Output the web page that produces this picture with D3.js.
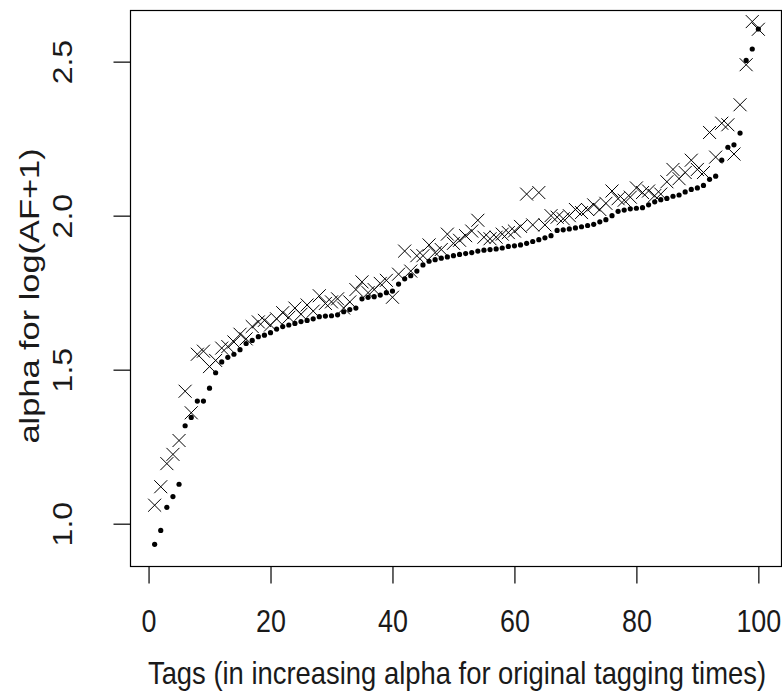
<!DOCTYPE html>
<html>
<head>
<meta charset="utf-8">
<script src="https://cdn.jsdelivr.net/npm/d3@7"></script>
<style>
  html, body { margin: 0; padding: 0; background: #fff; }
  svg { display: block; }
  text { font-family: "Liberation Sans", Arial, sans-serif; fill: #1a1a1a; }
</style>
</head>
<body>
<svg id="chart" width="782" height="698"></svg>
<script>
// alpha per tag, sorted (filled dots)
const alphaOriginal = [
  0.933, 0.978, 1.053, 1.088, 1.128, 1.318, 1.345, 1.398, 1.398, 1.44,
  1.49, 1.525, 1.54, 1.55, 1.565, 1.585, 1.595, 1.607, 1.612, 1.62,
  1.632, 1.64, 1.645, 1.65, 1.656, 1.66, 1.665, 1.672, 1.674, 1.675,
  1.678, 1.688, 1.695, 1.70, 1.73, 1.735, 1.737, 1.742, 1.75, 1.755,
  1.778, 1.795, 1.805, 1.82, 1.84, 1.852, 1.857, 1.862, 1.866, 1.87,
  1.874, 1.877, 1.88, 1.885, 1.888, 1.89, 1.892, 1.895, 1.90, 1.902,
  1.905, 1.91, 1.916, 1.922, 1.928, 1.935, 1.952, 1.954, 1.957, 1.96,
  1.964, 1.968, 1.972, 1.98, 1.987, 2.0, 2.014, 2.018, 2.022, 2.024,
  2.026, 2.035, 2.045, 2.052, 2.056, 2.063, 2.067, 2.077, 2.085, 2.09,
  2.098, 2.118, 2.128, 2.18, 2.222, 2.23, 2.268, 2.504, 2.541, 2.606
];

// alpha per tag for log(AF+1) (crosses)
const alphaLogAF = [
  1.06, 1.12, 1.195, 1.225, 1.27, 1.43, 1.36, 1.55, 1.56, 1.51,
  1.53, 1.57, 1.575, 1.59, 1.615, 1.60, 1.64, 1.655, 1.66, 1.645,
  1.665, 1.685, 1.67, 1.70, 1.68, 1.71, 1.69, 1.74, 1.715, 1.72,
  1.73, 1.70, 1.72, 1.76, 1.785, 1.75, 1.76, 1.78, 1.79, 1.735,
  1.81, 1.885, 1.82, 1.87, 1.87, 1.905, 1.88, 1.89, 1.94, 1.91,
  1.92, 1.935, 1.95, 1.985, 1.93, 1.925, 1.93, 1.94, 1.945, 1.95,
  1.965, 2.07, 1.97, 2.075, 1.97, 2.0, 1.995, 1.99, 2.0, 2.02,
  2.01, 2.02, 2.035, 2.02, 2.04, 2.08, 2.055, 2.05, 2.06, 2.09,
  2.075, 2.08, 2.065, 2.07, 2.11, 2.15, 2.12, 2.14, 2.18, 2.15,
  2.14, 2.27, 2.19, 2.30, 2.295, 2.20, 2.36, 2.49, 2.63, 2.605
];

const xTicks = [0, 20, 40, 60, 80, 100];
const yTicks = [1.0, 1.5, 2.0, 2.5];
const xTitle = "Tags (in increasing alpha for original tagging times)";
const yTitle = "alpha for log(AF+1)";

const box = { left: 130.5, right: 781.5, top: 10.5, bottom: 566.5 };
const fontSize = 32;     // vertical glyph size
const squeeze = 0.84;    // horizontal squeeze of glyphs

const svg = d3.select("#chart");

const x = d3.scaleLinear().domain([-2.96, 103.96]).range([box.left, box.left + 652]);
const y = d3.scaleLinear().domain([0.861, 2.666]).range([box.bottom, box.top]);

// points: tag number is position in the arrays
const dots = alphaOriginal.map((v, i) => ({ tag: i + 1, v }));
const crosses = alphaLogAF.map((v, i) => ({ tag: i + 1, v }));

const plot = svg.append("g");

plot.selectAll("circle.dot")
  .data(dots)
  .join("circle")
  .attr("class", "dot")
  .attr("cx", d => x(d.tag))
  .attr("cy", d => y(d.v))
  .attr("r", 2.6)
  .attr("fill", "#000");

const s = 6.5;
plot.selectAll("path.cross")
  .data(crosses)
  .join("path")
  .attr("class", "cross")
  .attr("d", d => {
    const cx = x(d.tag), cy = y(d.v);
    return `M${cx - s},${cy - s}L${cx + s},${cy + s}M${cx - s},${cy + s}L${cx + s},${cy - s}`;
  })
  .attr("stroke", "#000")
  .attr("stroke-width", 1)
  .attr("fill", "none");

// box
svg.append("rect")
  .attr("x", box.left)
  .attr("y", box.top)
  .attr("width", box.right - box.left)
  .attr("height", box.bottom - box.top)
  .attr("fill", "none")
  .attr("stroke", "#000")
  .attr("stroke-width", 1.2);

// x axis
const xAxisG = svg.append("g")
  .attr("transform", `translate(0,${box.bottom})`)
  .call(d3.axisBottom(x).tickValues(xTicks).tickSize(17).tickFormat(d3.format("d")));
xAxisG.select(".domain").remove();
xAxisG.selectAll(".tick line").attr("stroke", "#000").attr("stroke-width", 1.2);
xAxisG.selectAll(".tick text")
  .attr("y", null).attr("dy", null)
  .attr("font-size", fontSize)
  .attr("text-anchor", "middle")
  .attr("dominant-baseline", "central")
  .attr("transform", `translate(0,54) scale(${squeeze},1)`);

// y axis
const yAxisG = svg.append("g")
  .attr("transform", `translate(${box.left},0)`)
  .call(d3.axisLeft(y).tickValues(yTicks).tickSize(17).tickFormat(d3.format(".1f")));
yAxisG.select(".domain").remove();
yAxisG.selectAll(".tick line").attr("stroke", "#000").attr("stroke-width", 1.2);
yAxisG.selectAll(".tick text")
  .attr("x", null).attr("dy", null)
  .attr("font-size", fontSize)
  .attr("text-anchor", "middle")
  .attr("dominant-baseline", "central")
  .attr("transform", `translate(-68,0) rotate(-90) scale(1,${squeeze})`);

// axis titles
svg.append("text")
  .attr("font-size", 27.4)
  .attr("text-anchor", "middle")
  .attr("transform", "translate(457,684) scale(1,1.15)")
  .text(xTitle);

svg.append("text")
  .attr("font-size", 34.4)
  .attr("text-anchor", "middle")
  .attr("dominant-baseline", "central")
  .attr("transform", "translate(30,296) rotate(-90) scale(1,0.78)")
  .text(yTitle);
</script>
</body>
</html>
